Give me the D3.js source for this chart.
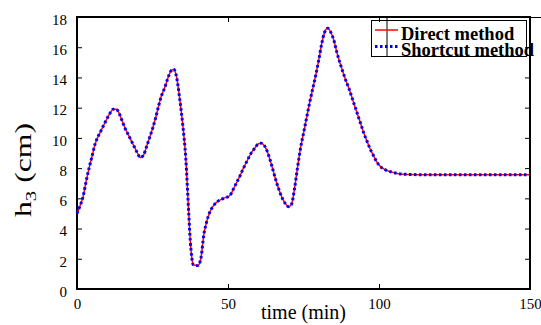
<!DOCTYPE html>
<html>
<head>
<meta charset="utf-8">
<script src="https://cdn.jsdelivr.net/npm/d3@7"></script>
<style>
  body { margin: 0; background: #fff; }
  text { font-family: "Liberation Serif", "Times New Roman", serif; }
</style>
</head>
<body>
<div id="chart"></div>
<script>
// time axis (min) and both solutions of h3 (cm)
const timeMin = [0, 1, 2, 3, 4, 5, 6, 7, 8, 9, 10, 11, 12, 13, 14, 15, 16, 17, 18, 19, 20,
  21, 22, 23, 24, 25, 26, 27, 28, 29, 30, 31, 32, 33, 34, 35, 36, 37, 37.5, 38, 38.5, 40,
  41, 42, 43, 44, 45, 46, 47, 48, 49, 50, 51, 52, 53, 54, 55, 56, 57, 58, 59, 60,
  61, 62, 63, 64, 65, 66, 67, 68, 69, 70, 71, 72, 73, 74, 75, 76, 77, 78, 79, 80,
  81, 82, 83, 84, 85, 86, 87, 88, 89, 90, 91, 92, 93, 94, 95, 96, 97, 98, 99, 100,
  102, 104, 106, 108, 110, 115, 120, 130, 140, 150];
const directH = [5.0, 5.5, 6.1, 7.1, 8.0, 8.8, 9.6, 10.1, 10.5, 10.9, 11.3, 11.65, 11.9, 11.9, 11.6, 11.1, 10.6, 10.2, 9.8, 9.4, 9.0,
  8.7, 8.85, 9.4, 10.0, 10.6, 11.3, 12.1, 12.8, 13.3, 13.9, 14.4, 14.55, 14.0, 12.6, 10.9, 8.7, 5.0, 3.2, 2.1, 1.6, 1.55,
  2.0, 3.6, 4.5, 5.1, 5.45, 5.7, 5.85, 5.95, 6.05, 6.1, 6.3, 6.7, 7.1, 7.5, 7.95, 8.35, 8.75, 9.1, 9.35, 9.6,
  9.65, 9.5, 9.1, 8.5, 7.8, 7.1, 6.5, 6.0, 5.65, 5.45, 5.6, 6.6, 8.0, 9.3, 10.3, 11.3, 12.3, 13.2, 14.1, 15.1,
  16.2, 17.0, 17.25, 17.0, 16.5, 15.7, 15.0, 14.4, 13.8, 13.3, 12.7, 12.1, 11.5, 10.9, 10.3, 9.8, 9.3, 8.9, 8.5, 8.2,
  7.9, 7.75, 7.65, 7.6, 7.58, 7.56, 7.56, 7.56, 7.56, 7.56];
const shortcutH = [5.0, 5.5, 6.1, 7.1, 8.0, 8.8, 9.6, 10.1, 10.5, 10.9, 11.3, 11.65, 11.9, 11.9, 11.6, 11.1, 10.6, 10.2, 9.8, 9.4, 9.0,
  8.7, 8.85, 9.4, 10.0, 10.6, 11.3, 12.1, 12.8, 13.3, 13.9, 14.4, 14.55, 14.0, 12.6, 10.9, 8.7, 5.0, 3.2, 2.1, 1.6, 1.55,
  2.0, 3.6, 4.5, 5.1, 5.45, 5.7, 5.85, 5.95, 6.05, 6.1, 6.3, 6.7, 7.1, 7.5, 7.95, 8.35, 8.75, 9.1, 9.35, 9.6,
  9.65, 9.5, 9.1, 8.5, 7.8, 7.1, 6.5, 6.0, 5.65, 5.45, 5.6, 6.6, 8.0, 9.3, 10.3, 11.3, 12.3, 13.2, 14.1, 15.1,
  16.2, 17.0, 17.25, 17.0, 16.5, 15.7, 15.0, 14.4, 13.8, 13.3, 12.7, 12.1, 11.5, 10.9, 10.3, 9.8, 9.3, 8.9, 8.5, 8.2,
  7.9, 7.75, 7.65, 7.6, 7.58, 7.56, 7.56, 7.56, 7.56, 7.56];
const xTicks = [0, 50, 100, 150];
const yTicks = [0, 2, 4, 6, 8, 10, 12, 14, 16, 18];
const seriesNames = ["Direct method", "Shortcut method"];

const W = 541, H = 325;
const serif = "Liberation Serif";
const margin = { top: 17, right: 11, bottom: 36, left: 77 },
    width = W - margin.left - margin.right,
    height = H - margin.top - margin.bottom;

var svg = d3.select("#chart")
    .append("svg")
    .attr("width", W)
    .attr("height", H);

var xScale = d3.scaleLinear().domain([0, 150]).range([0, width]),
    yScale = d3.scaleLinear().domain([0, 18]).range([height, 0]);

var g = svg.append("g")
    .attr("transform", "translate(" + margin.left + "," + margin.top + ")");

// axes, matlab style: inward ticks on all four sides
function styleAxis(sel) {
    sel.attr("font-family", serif).attr("font-size", 15);
    sel.select(".domain").remove();
    sel.selectAll(".tick line").attr("stroke", "#000").attr("stroke-width", 1);
    sel.selectAll(".tick text").style("font-family", serif).attr("font-size", "15px").attr("fill", "#000");
}

g.append("g")
    .attr("transform", "translate(0," + height + ")")
    .call(d3.axisBottom(xScale).tickValues(xTicks).tickSizeInner(-5).tickPadding(9))
    .call(styleAxis);

g.append("g")
    .call(d3.axisTop(xScale).tickValues(xTicks).tickSizeInner(-5).tickFormat(""))
    .call(styleAxis);

g.append("g")
    .call(d3.axisLeft(yScale).tickValues(yTicks).tickSizeInner(-5).tickPadding(10))
    .call(styleAxis)
    .selectAll(".tick text").attr("dy", "0.75em").attr("y", -4);

g.append("g")
    .attr("transform", "translate(" + width + ",0)")
    .call(d3.axisRight(yScale).tickValues(yTicks).tickSizeInner(-5).tickFormat(""))
    .call(styleAxis);

g.append("rect")
    .attr("width", width)
    .attr("height", height)
    .attr("fill", "none")
    .attr("stroke", "#000")
    .attr("stroke-width", 2);

var line = d3.line()
    .x((d) => xScale(d[0]))
    .y((d) => yScale(d[1]))
    .curve(d3.curveMonotoneX);

g.append("path")
    .datum(timeMin.map((t, i) => [t, directH[i]]))
    .attr("fill", "none")
    .attr("stroke", "rgb(255,0,0)")
    .attr("stroke-width", 1.5)
    .attr("d", line);

g.append("path")
    .datum(timeMin.map((t, i) => [t, shortcutH[i]]))
    .attr("fill", "none")
    .attr("stroke", "rgb(0,0,255)")
    .attr("stroke-width", 3)
    .attr("stroke-dasharray", "2.5,2.5")
    .attr("d", line);

// axis titles
svg.append("text")
    .attr("x", margin.left + width / 2)
    .attr("y", 319)
    .attr("text-anchor", "middle")
    .attr("font-size", "20px")
    .text("time (min)");

var yl = svg.append("text")
    .attr("transform", "translate(31,170) rotate(-90)")
    .attr("text-anchor", "middle")
    .attr("font-size", "23px")
    .attr("textLength", 94)
    .attr("lengthAdjust", "spacingAndGlyphs");
yl.append("tspan").text("h");
yl.append("tspan").attr("font-size", "15px").attr("dy", 5).text("3");
yl.append("tspan").attr("dy", -5).text(" (cm)");

// legend
var leg = svg.append("g");
leg.append("line")
    .attr("x1", 387).attr("x2", 387).attr("y1", 17).attr("y2", 57)
    .attr("stroke", "#000");
leg.append("line")
    .attr("x1", 530).attr("x2", 541).attr("y1", 17.5).attr("y2", 17.5)
    .attr("stroke", "#000");
leg.append("rect")
    .attr("x", 371.5).attr("y", 20.5)
    .attr("width", 155).attr("height", 36)
    .attr("fill", "none")
    .attr("stroke", "#000");

svg.append("clipPath").attr("id", "legclip")
    .append("rect").attr("x", 360).attr("y", 18).attr("width", 181).attr("height", 39);

var items = leg.selectAll(".item")
    .data(seriesNames)
    .enter().append("g")
    .attr("class", "item")
    .attr("clip-path", "url(#legclip)");

items.append("line")
    .attr("x1", 375).attr("x2", 398)
    .attr("y1", (d, i) => 30 + i * 16.5).attr("y2", (d, i) => 30 + i * 16.5)
    .attr("stroke", (d, i) => i == 0 ? "rgb(255,0,0)" : "rgb(0,0,255)")
    .attr("stroke-width", (d, i) => i == 0 ? 1.5 : 3)
    .attr("stroke-dasharray", (d, i) => i == 0 ? null : "2.5,2.5");

items.append("text")
    .attr("x", 401)
    .attr("y", (d, i) => 40 + i * 15.5)
    .attr("font-size", "18.5px")
    .attr("font-weight", "bold")
    .text((d) => d);
</script>
</body>
</html>
